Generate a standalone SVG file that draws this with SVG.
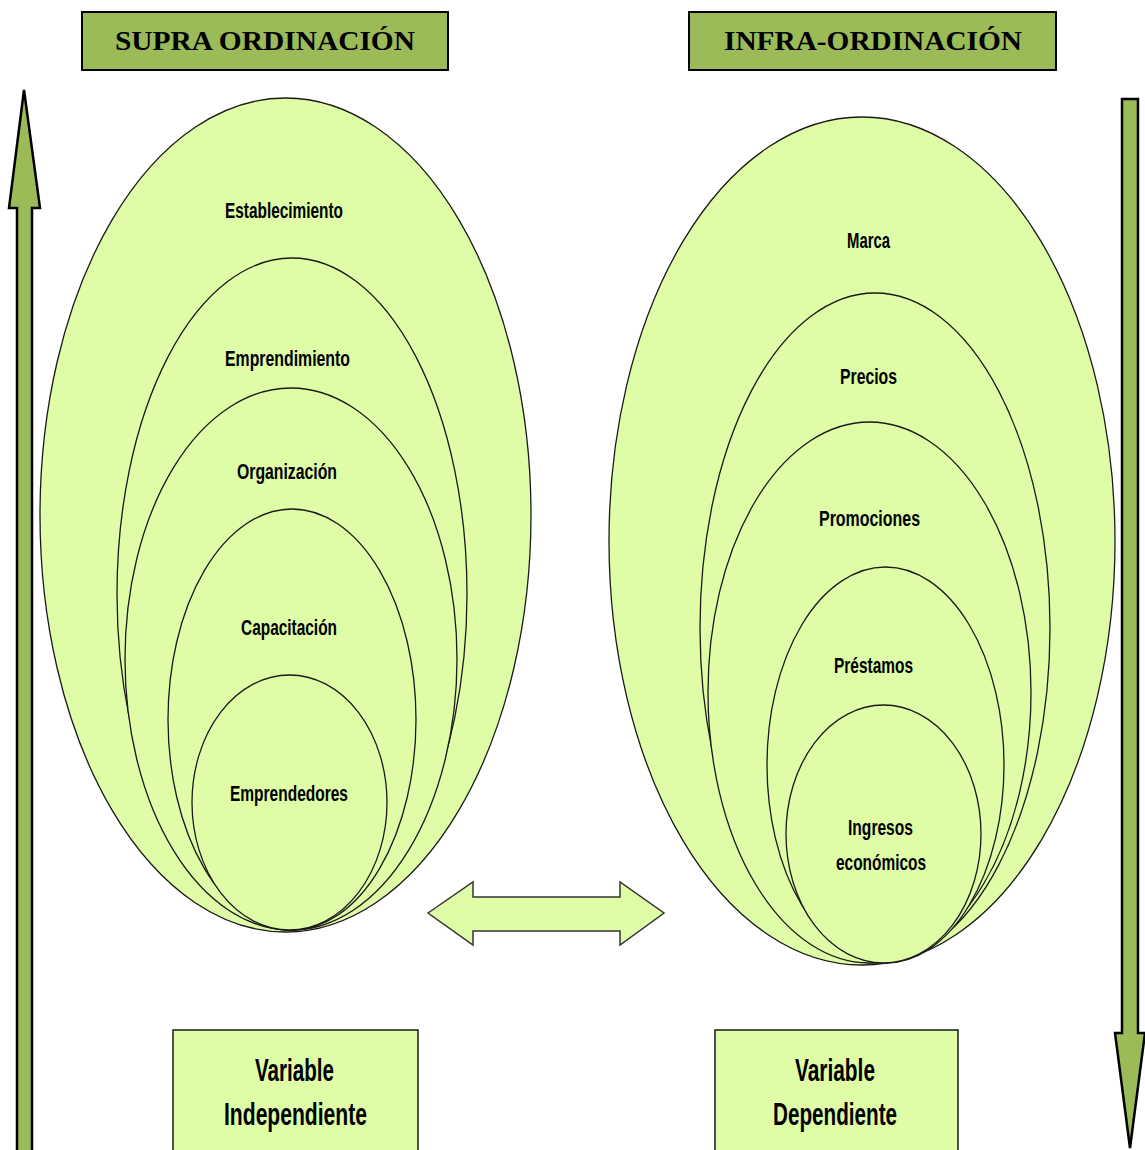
<svg xmlns="http://www.w3.org/2000/svg" width="1145" height="1150" viewBox="0 0 1145 1150">
<style>
.hdr{fill:#9BBB59;stroke:#000;stroke-width:2}
.hdrt{font-family:"Liberation Serif",serif;font-weight:bold;font-size:27px;fill:#000;text-anchor:middle}
.ell{fill:#DEFDA6;stroke:#1a1a1a;stroke-width:1.3}
.lbl{font-family:"Liberation Sans",Arial,sans-serif;font-weight:bold;font-size:22px;fill:#000;text-anchor:middle}
.box{fill:#DEFDA6;stroke:#1a1a1a;stroke-width:1.5}
.blbl{font-family:"Liberation Sans",Arial,sans-serif;font-weight:bold;font-size:31px;fill:#000;text-anchor:middle}
.arr{fill:#9BBB59;stroke:#000;stroke-width:2.5;stroke-linejoin:miter}
.darr{fill:#DEFDA6;stroke:#333;stroke-width:1.5}
</style>
<rect width="1145" height="1150" fill="#fff"/>
<g id="hdr-supra">
<rect class="hdr" x="82" y="12" width="366" height="58"/>
<text class="hdrt" x="265" y="50" textLength="300" lengthAdjust="spacingAndGlyphs">SUPRA ORDINACIÓN</text>
</g>
<g id="hdr-infra">
<rect class="hdr" x="689" y="12" width="367" height="58"/>
<text class="hdrt" x="873" y="50" textLength="298" lengthAdjust="spacingAndGlyphs">INFRA-ORDINACIÓN</text>
</g>
<g id="connectors">
<path class="arr" d="M24,90 L40,208 L32,208 L32,1152 L17,1152 L17,208 L9,208 Z"/>
<path class="arr" d="M1122,99 L1138,99 L1138,1033 L1145,1033 L1130,1148 L1115,1033 L1122,1033 Z"/>
<path class="darr" d="M428,913 L473,882 L473,897 L620,897 L620,882 L664,913 L620,945 L620,931 L473,931 L473,945 Z"/>
</g>
<g id="set-left">
<g id="n-establecimiento">
<ellipse class="ell" cx="285.5" cy="515" rx="245.5" ry="417"/>
<text class="lbl" x="284" y="218" textLength="118" lengthAdjust="spacingAndGlyphs">Establecimiento</text>
</g>
<g id="n-emprendimiento">
<ellipse class="ell" cx="292" cy="594" rx="175" ry="336"/>
<text class="lbl" x="287.5" y="366" textLength="125" lengthAdjust="spacingAndGlyphs">Emprendimiento</text>
</g>
<g id="n-organizacion">
<ellipse class="ell" cx="291" cy="659" rx="166" ry="271"/>
<text class="lbl" x="287" y="479" textLength="100" lengthAdjust="spacingAndGlyphs">Organización</text>
</g>
<g id="n-capacitacion">
<ellipse class="ell" cx="292" cy="719.5" rx="124" ry="210.5"/>
<text class="lbl" x="289" y="635" textLength="96" lengthAdjust="spacingAndGlyphs">Capacitación</text>
</g>
<g id="n-emprendedores">
<ellipse class="ell" cx="289.5" cy="802.5" rx="97.5" ry="127.5"/>
<text class="lbl" x="289" y="801" textLength="118" lengthAdjust="spacingAndGlyphs">Emprendedores</text>
</g>
</g>
<g id="set-right">
<g id="n-marca">
<ellipse class="ell" cx="862" cy="541" rx="253" ry="424"/>
<text class="lbl" x="868.5" y="248" textLength="43" lengthAdjust="spacingAndGlyphs">Marca</text>
</g>
<g id="n-precios">
<ellipse class="ell" cx="875" cy="628" rx="175" ry="335"/>
<text class="lbl" x="868.5" y="384" textLength="57" lengthAdjust="spacingAndGlyphs">Precios</text>
</g>
<g id="n-promociones">
<ellipse class="ell" cx="869.5" cy="692.5" rx="161.5" ry="270.5"/>
<text class="lbl" x="869.5" y="526" textLength="101" lengthAdjust="spacingAndGlyphs">Promociones</text>
</g>
<g id="n-prestamos">
<ellipse class="ell" cx="885.5" cy="765" rx="118.5" ry="198"/>
<text class="lbl" x="873.5" y="673" textLength="79" lengthAdjust="spacingAndGlyphs">Préstamos</text>
</g>
<g id="n-ingresos">
<ellipse class="ell" cx="883.5" cy="834" rx="97.5" ry="129"/>
<text class="lbl" x="880.5" y="835" textLength="65" lengthAdjust="spacingAndGlyphs">Ingresos</text>
<text class="lbl" x="881" y="870" textLength="90" lengthAdjust="spacingAndGlyphs">económicos</text>
</g>
</g>
<g id="box-independiente">
<rect class="box" x="173" y="1030" width="245" height="125"/>
<text class="blbl" x="294.5" y="1081" textLength="79" lengthAdjust="spacingAndGlyphs">Variable</text>
<text class="blbl" x="295.5" y="1125" textLength="143" lengthAdjust="spacingAndGlyphs">Independiente</text>
</g>
<g id="box-dependiente">
<rect class="box" x="715" y="1030" width="243" height="125"/>
<text class="blbl" x="835" y="1081" textLength="80" lengthAdjust="spacingAndGlyphs">Variable</text>
<text class="blbl" x="835" y="1125" textLength="124" lengthAdjust="spacingAndGlyphs">Dependiente</text>
</g>
</svg>
